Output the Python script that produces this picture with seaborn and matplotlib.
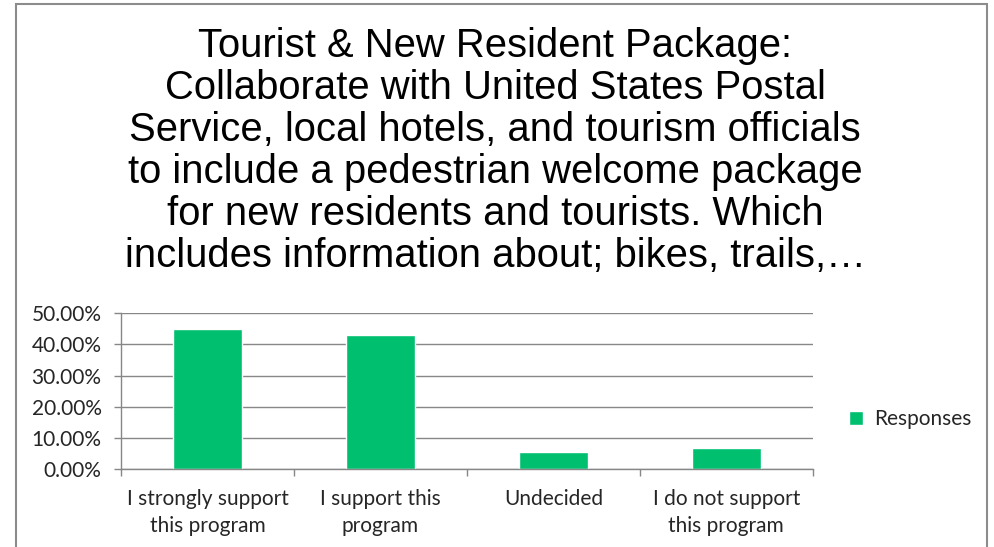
import seaborn as sns
import pandas as pd
import matplotlib.pyplot as plt
from matplotlib.patches import Rectangle
from matplotlib.ticker import PercentFormatter

categories = ["I strongly support\nthis program", "I support this\nprogram",
              "Undecided", "I do not support\nthis program"]
responses = [45.0, 43.1, 5.4, 6.7]
series = "Responses"
title = ("Tourist & New Resident Package:\n"
         "Collaborate with United States Postal\n"
         "Service, local hotels, and tourism officials\n"
         "to include a pedestrian welcome package\n"
         "for new residents and tourists. Which\n"
         "includes information about; bikes, trails,…")

df = pd.DataFrame({"answer": categories, "value": responses, "series": series})

sns.set_style("white")
plt.rcParams["font.family"] = ["Lato", "DejaVu Sans"]

fig = plt.figure(figsize=(9.94, 5.47), dpi=100)
ax = fig.add_axes([0.1217, 0.142, 0.696, 0.2858])

sns.barplot(data=df, x="answer", y="value", hue="series", palette=["#00BF6F"],
            saturation=1, width=0.4, ax=ax)

ax.set_ylim(0, 50)
ax.set_xlim(-0.5, 3.5)
ax.set_yticks([0, 10, 20, 30, 40, 50])
ax.yaxis.set_major_formatter(PercentFormatter(decimals=2))
ax.set_xlabel("")
ax.set_ylabel("")
ax.grid(True, axis="y", color="#878787", linewidth=1.0)
ax.set_axisbelow(True)

for side in ["top", "right"]:
    ax.spines[side].set_visible(False)
for side in ["left", "bottom"]:
    ax.spines[side].set_color("#878787")
    ax.spines[side].set_linewidth(1.0)

ax.tick_params(axis="y", which="major", length=5, color="#878787", width=1.0,
               labelsize=15, labelcolor="#262626", left=True, pad=9)
ax.tick_params(axis="x", which="major", length=0, labelsize=15,
               labelcolor="#262626", pad=14)
for lbl in ax.get_xticklabels():
    lbl.set_linespacing(1.45)
ax.set_xticks([-0.5, 0.5, 1.5, 2.5, 3.5], minor=True)
ax.tick_params(axis="x", which="minor", length=5, color="#878787", width=1.0,
               bottom=True)

ax.legend(loc="center left", bbox_to_anchor=(1.025, 0.32), frameon=False,
          fontsize=15, handlelength=0.7, handleheight=0.7, handletextpad=0.5,
          labelcolor="#262626")

fig.text(0.498, 0.95, title, ha="center", va="top", fontsize=28.8,
         color="black", family=["Liberation Sans", "DejaVu Sans"],
         linespacing=1.13)

fig.patches.append(Rectangle((16 / 994, -0.1), 971 / 994, 1.1 - 4 / 547,
                             transform=fig.transFigure, fill=False,
                             edgecolor="#8c8c8c", linewidth=1.5))

fig.savefig("out.png", dpi=100)
